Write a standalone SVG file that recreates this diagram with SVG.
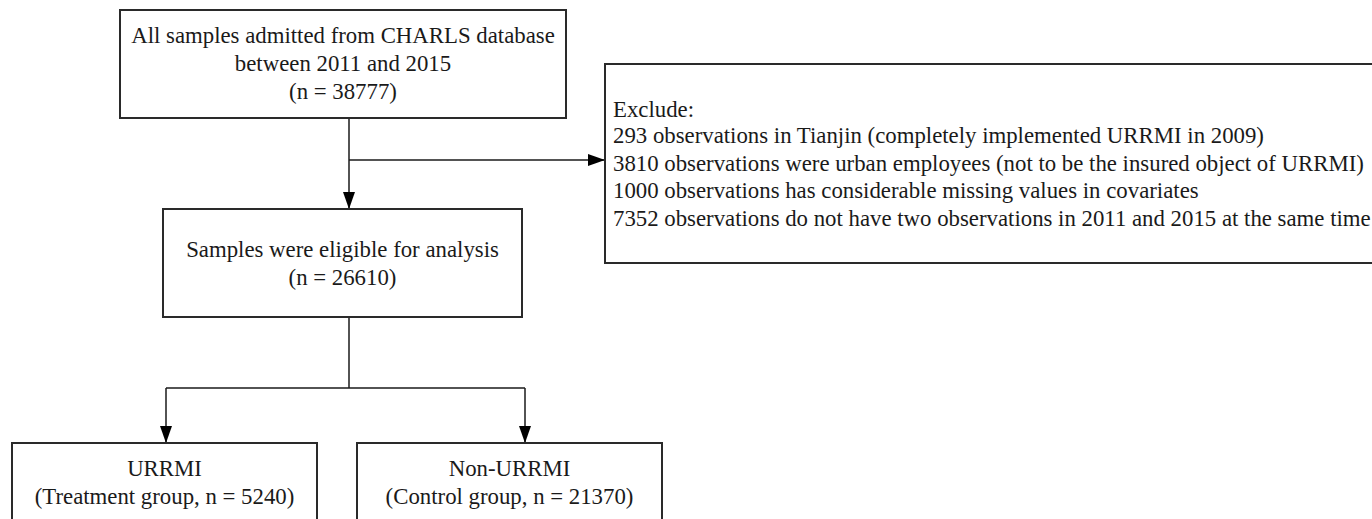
<svg xmlns="http://www.w3.org/2000/svg" width="1372" height="519" viewBox="0 0 1372 519">
  <style>
    .box { fill: #ffffff; stroke: #2a2a2a; stroke-width: 2; }
    .conn { fill: none; stroke: #1a1a1a; stroke-width: 1.5; }
    .t { font-family: "Liberation Serif", "Times New Roman", serif; font-size: 22.8px; fill: #1a1a1a; }
    .c { text-anchor: middle; }
  </style>
  <defs>
    <marker id="arrow" viewBox="0 0 17 12" markerWidth="17" markerHeight="12" refX="17" refY="6" orient="auto" markerUnits="userSpaceOnUse">
      <path d="M0,0 L17,6 L0,12 z" fill="#000000"/>
    </marker>
  </defs>
  <rect width="1372" height="519" fill="#ffffff"/>

  <g id="connectors">
    <path class="conn" d="M349,118 V209" marker-end="url(#arrow)"/>
    <path class="conn" d="M349,160 H605" marker-end="url(#arrow)"/>
    <path class="conn" d="M349,317 V388"/>
    <path class="conn" d="M166,388 H525"/>
    <path class="conn" d="M166,388 V443" marker-end="url(#arrow)"/>
    <path class="conn" d="M525,388 V443" marker-end="url(#arrow)"/>
  </g>

  <g id="node-all-samples">
    <rect class="box" x="120" y="10" width="446" height="108"/>
    <text class="t c" x="343" y="43">All samples admitted from CHARLS database</text>
    <text class="t c" x="343" y="71">between 2011 and 2015</text>
    <text class="t c" x="343" y="98.5">(n = 38777)</text>
  </g>

  <g id="node-exclude">
    <rect class="box" x="605" y="64" width="800" height="199"/>
    <text class="t" x="613" y="116.5">Exclude:</text>
    <text class="t" x="613" y="143">293 observations in Tianjin (completely implemented URRMI in 2009)</text>
    <text class="t" x="613" y="170.5">3810 observations were urban employees (not to be the insured object of URRMI)</text>
    <text class="t" x="613" y="198">1000 observations has considerable missing values in covariates</text>
    <text class="t" x="613" y="225.5">7352 observations do not have two observations in 2011 and 2015 at the same time</text>
  </g>

  <g id="node-eligible">
    <rect class="box" x="163" y="209" width="359" height="108"/>
    <text class="t c" x="342.5" y="257">Samples were eligible for analysis</text>
    <text class="t c" x="342.5" y="285">(n = 26610)</text>
  </g>

  <g id="node-urrmi">
    <rect class="box" x="12" y="443" width="305" height="100"/>
    <text class="t c" x="164.5" y="476">URRMI</text>
    <text class="t c" x="164.5" y="503.5">(Treatment group, n = 5240)</text>
  </g>

  <g id="node-non-urrmi">
    <rect class="box" x="357" y="443" width="305" height="100"/>
    <text class="t c" x="509.5" y="476">Non-URRMI</text>
    <text class="t c" x="509.5" y="503.5">(Control group, n = 21370)</text>
  </g>
</svg>
